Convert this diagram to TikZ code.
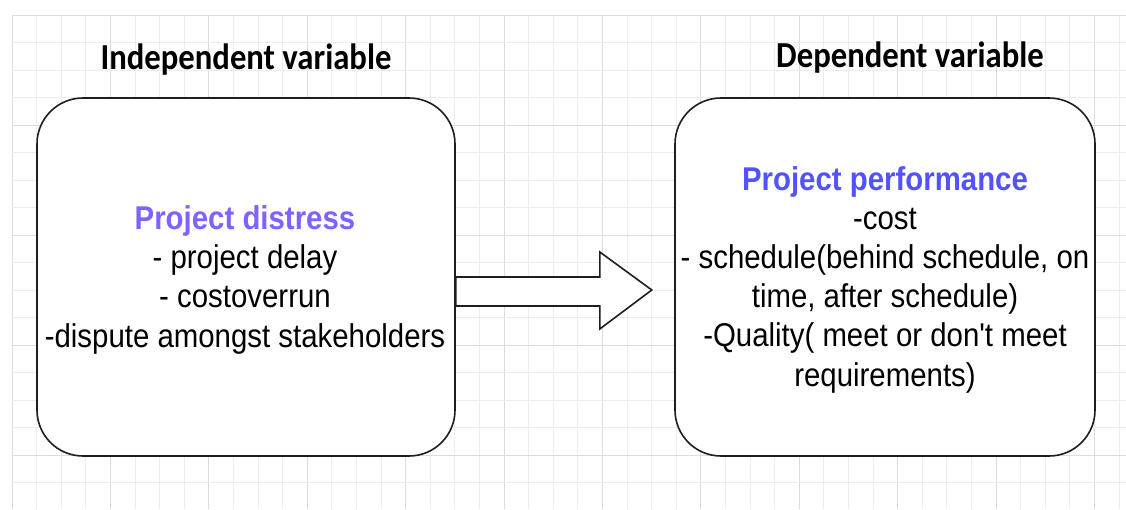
\documentclass[tikz,border=0pt]{standalone}
\usepackage{fontspec}
\setmainfont{Liberation Sans}[Ligatures=TeXOff]
\newfontfamily\titlefont{Carlito}
\usetikzlibrary{calc}
\definecolor{gridminor}{HTML}{EDEDED}
\definecolor{gridmajor}{HTML}{DCDCDC}
\definecolor{distresscol}{HTML}{8062FF}
\definecolor{perfcol}{HTML}{5252FF}
\definecolor{edgecol}{HTML}{1E1E1E}
\tikzset{
  box/.style={draw=edgecol, line width=1.6pt, fill=white, rounded corners=46pt, inner sep=0pt},
  bodytext/.style={font=\fontsize{29.4}{34.9}\selectfont, align=center, yscale=1.12, inner sep=0pt, anchor=base, text=black},
  titletext/.style={font=\titlefont\bfseries\fontsize{32.7}{36}\selectfont, yscale=1.12, inner sep=0pt, anchor=base, text=black},
  bigarrow/.style={draw=edgecol, line width=1.6pt, fill=white, line join=miter}
}
\begin{document}
\begin{tikzpicture}[x=1pt,y=-1pt]
\useasboundingbox (0,0) rectangle (1126,509);
\fill[white] (0,0) rectangle (1126,509);
% grid
\foreach \k in {0,...,45}{
  \pgfmathtruncatemacro{\m}{mod(\k,4)}
  \ifnum\m=0 \def\gc{gridmajor}\else\def\gc{gridminor}\fi
  \draw[\gc, line width=1pt] ({12+24.6*\k},15) -- ({12+24.6*\k},509);
}
\foreach \k in {0,...,17}{
  \pgfmathtruncatemacro{\m}{mod(\k,4)}
  \ifnum\m=0 \def\gc{gridmajor}\else\def\gc{gridminor}\fi
  \draw[\gc, line width=1pt] (12,{15+27.5*\k}) -- (1126,{15+27.5*\k});
}
% boxes
\node[box, minimum width=418pt, minimum height=358pt] (L) at (246,277) {};
\node[box, minimum width=420pt, minimum height=358pt] (R) at (885,277) {};
% titles
\node[titletext] (Ltitle) at (246,69) {Independent variable};
\node[titletext] (Rtitle) at (910,67) {Dependent variable};
% box texts (anchor base = baseline of last line)
\node[bodytext] (Ltxt) at (245,347) {\textbf{\textcolor{distresscol}{Project distress}}\\- project delay\\- costoverrun\\-dispute amongst stakeholders};
\node[bodytext] (Rtxt) at (885,386) {\textbf{\textcolor{perfcol}{Project performance}}\\-cost\\- schedule(behind schedule, on\\time, after schedule)\\-Quality( meet or don't meet\\requirements)};
% arrow
\coordinate (a0) at (L.east);
\draw[bigarrow] (a0) -- ($(a0)+(144,0)$) -- ($(a0)+(144,-25)$) -- ($(a0)+(196,13)$) -- ($(a0)+(144,52)$) -- ($(a0)+(144,29)$) -- ($(a0)+(0,29)$) -- cycle;
\end{tikzpicture}
\end{document}
